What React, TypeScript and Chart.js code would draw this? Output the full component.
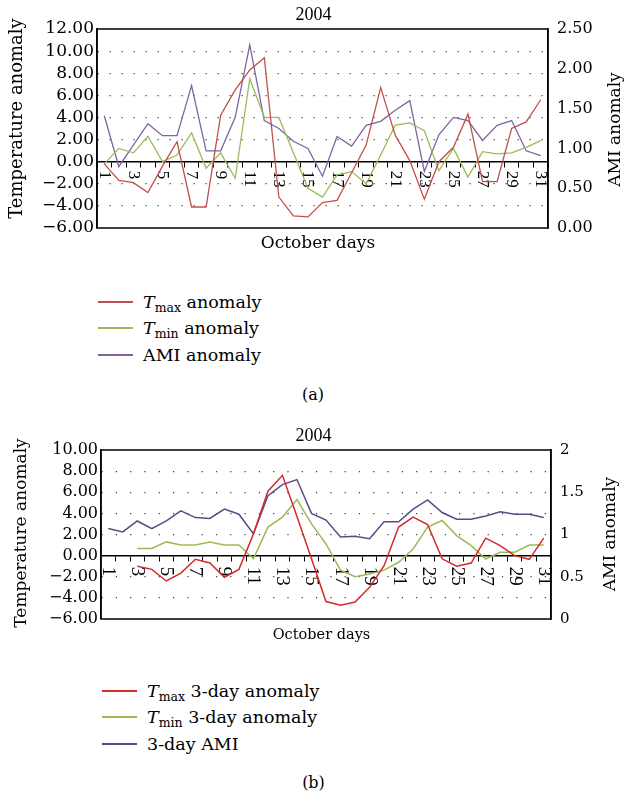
import React, { useEffect, useRef } from 'react';
import { Chart, registerables } from 'chart.js';

Chart.register(...registerables);

// ---------- data ----------
const days = ['1','2','3','4','5','6','7','8','9','10','11','12','13','14','15','16','17','18','19','20','21','22','23','24','25','26','27','28','29','30','31'];

// (a) daily anomalies
const tmaxDaily = [-0.2, -1.7, -1.9, -2.8, -0.4, 1.8, -4.1, -4.1, 4.2, 6.5, 8.3, 9.4, -3.2, -4.9, -5.0, -3.7, -3.5, -1.0, 1.5, 6.7, 2.4, 0.1, -3.4, 0.0, 1.3, 4.3, -1.8, -1.8, 3.0, 3.6, 5.6];
const tminDaily = [-0.2, 1.2, 0.8, 2.3, 0.0, 0.6, 2.6, -0.6, 0.8, -1.5, 7.5, 4.0, 4.0, 0.8, -2.4, -3.2, -1.2, -0.9, -2.0, 0.6, 3.3, 3.5, 2.8, -0.8, 1.2, -1.4, 0.9, 0.7, 0.8, 1.3, 1.9];
const amiDaily = [1.41, 0.77, 1.04, 1.31, 1.16, 1.16, 1.79, 0.97, 0.97, 1.39, 2.30, 1.35, 1.25, 1.09, 1.00, 0.65, 1.15, 1.03, 1.29, 1.34, 1.48, 1.60, 0.71, 1.17, 1.39, 1.35, 1.10, 1.29, 1.35, 0.97, 0.91];

// (b) 3-day anomalies
const tmax3day = [null, null, -1.0, -1.3, -2.4, -1.65, -0.35, -0.7, -2.05, -1.3, 2.05, 6.1, 7.6, 3.7, -0.3, -4.35, -4.7, -4.4, -3.0, -0.95, 2.7, 3.65, 2.95, -0.3, -1.0, -0.7, 1.65, 0.95, 0.0, -0.35, 1.65];
const tmin3day = [null, null, 0.67, 0.67, 1.3, 1.0, 1.0, 1.3, 1.0, 1.0, -0.3, 2.7, 3.65, 5.3, 3.0, 1.1, -1.37, -2.0, -1.75, -1.37, -0.63, 0.63, 2.7, 3.33, 1.9, 0.95, -0.32, 0.32, 0.32, 1.0, 1.0];
const ami3day = [1.07, 1.03, 1.16, 1.07, 1.16, 1.28, 1.20, 1.19, 1.30, 1.24, 1.01, 1.46, 1.59, 1.65, 1.25, 1.17, 0.97, 0.98, 0.95, 1.15, 1.15, 1.30, 1.41, 1.26, 1.18, 1.18, 1.22, 1.27, 1.24, 1.24, 1.20];

// ---------- helpers ----------
const SERIF = "'DejaVu Serif', serif";
const TIMES = "'Liberation Serif', serif";

const fmtLeft = (v: number) => (v < 0 ? '\u2212' : '') + Math.abs(v).toFixed(2);

function decor(cfg: any) {
  return {
    id: 'decor',
    beforeDatasetsDraw(chart: any) {
      const ctx = chart.ctx;
      const xs = chart.scales.x;
      const ys = chart.scales.y;
      const y0 = ys.getPixelForValue(0);
      ctx.save();
      ctx.fillStyle = '#000';
      ctx.font = cfg.xLabelFont;
      ctx.textAlign = 'left';
      ctx.textBaseline = 'middle';
      days.forEach((d, i) => {
        if (i % 2 !== 0) return;
        const x = xs.getPixelForValue(i);
        ctx.save();
        ctx.translate(x, y0 + cfg.xLabelGap);
        ctx.rotate(Math.PI / 2);
        ctx.fillText(d, 0, 0);
        ctx.restore();
      });
      ctx.restore();
    },
    afterDraw(chart: any) {
      const { ctx, chartArea: a } = chart;
      ctx.save();
      ctx.strokeStyle = '#000';
      ctx.lineWidth = 1.5;
      ctx.strokeRect(a.left, a.top, a.right - a.left, a.bottom - a.top);
      ctx.fillStyle = '#000';
      ctx.textAlign = 'center';
      ctx.textBaseline = 'middle';
      const rot = (txt: string, x: number, y: number, font: string) => {
        ctx.save();
        ctx.font = font;
        ctx.translate(x, y);
        ctx.rotate(-Math.PI / 2);
        ctx.fillText(txt, 0, 0);
        ctx.restore();
      };
      rot(cfg.leftTitle, cfg.leftTitleX, cfg.leftTitleY, cfg.leftTitleFont);
      rot(cfg.rightTitle, cfg.rightTitleX, cfg.rightTitleY, cfg.rightTitleFont);
      ctx.font = cfg.xTitleFont;
      ctx.textBaseline = 'alphabetic';
      ctx.fillText(cfg.xTitle, cfg.xTitleX, cfg.xTitleY);
      ctx.restore();
    },
  };
}

function makeConfig(p: any) {
  return {
    type: 'line',
    data: {
      labels: days,
      datasets: [
        { label: p.names[0], data: p.series[0], borderColor: p.colors[0], yAxisID: 'y' },
        { label: p.names[1], data: p.series[1], borderColor: p.colors[1], yAxisID: 'y' },
        { label: p.names[2], data: p.series[2], borderColor: p.colors[2], yAxisID: 'y1' },
      ].map((d) => ({ ...d, borderWidth: p.lineWidth, pointRadius: 0, tension: 0, fill: false, spanGaps: false })),
    },
    options: {
      animation: false,
      responsive: false,
      devicePixelRatio: 1,
      layout: { padding: { left: 0, right: 0, top: 0, bottom: p.padBottom } },
      plugins: {
        legend: { display: false },
        tooltip: { enabled: false },
        title: {
          display: true,
          text: '2004',
          color: '#000',
          font: { family: TIMES, size: 18, weight: 'normal', lineHeight: 1.1 },
          padding: { top: 5, bottom: 4.2 },
        },
      },
      scales: {
        x: {
          type: 'category',
          position: { y: 0 },
          offset: true,
          grid: { offset: true, drawOnChartArea: false, drawTicks: true, tickLength: 5, color: '#000', lineWidth: 1 },
          border: { display: true, color: '#000', width: 1.5 },
          ticks: { display: false },
        },
        y: {
          position: 'left',
          min: p.yMin,
          max: p.yMax,
          afterFit: (s: any) => { s.width = p.leftWidth; },
          ticks: {
            stepSize: 2,
            autoSkip: false,
            color: '#000',
            padding: 3,
            font: { family: SERIF, size: p.leftTickSize },
            callback: (v: any) => fmtLeft(Number(v)),
          },
          grid: {
            drawTicks: false,
            lineWidth: 1.2,
            color: (c: any) => {
              const v = c.tick ? c.tick.value : 0;
              return v === 0 || v === p.yMin || v === p.yMax ? 'rgba(0,0,0,0)' : '#3a3a3a';
            },
          },
          border: { display: true, color: '#000', width: 1.5, dash: p.dash },
        },
        y1: {
          position: 'right',
          min: 0,
          max: p.rMax,
          afterFit: (s: any) => { s.width = p.rightWidth; },
          ticks: {
            stepSize: 0.5,
            autoSkip: false,
            color: '#000',
            padding: 9,
            font: { family: SERIF, size: p.rightTickSize },
            callback: (v: any) => p.rFmt(Number(v)),
          },
          grid: { drawOnChartArea: false, drawTicks: false },
          border: { display: true, color: '#000', width: 1.5 },
        },
      },
    },
    plugins: [decor(p.decor)],
  };
}

function ChartCanvas({ config, width, height, top }: any) {
  const ref = useRef<HTMLCanvasElement | null>(null);
  useEffect(() => {
    if (!ref.current) return;
    const chart = new Chart(ref.current, config);
    return () => chart.destroy();
  }, []);
  return (
    <canvas
      ref={ref}
      width={width}
      height={height}
      style={{ position: 'absolute', left: 0, top, width, height }}
    />
  );
}

function LegendRow({ color, y, x, children }: any) {
  return (
    <div style={{ position: 'absolute', left: x, top: Math.round(y) - 12, height: 24, display: 'flex', alignItems: 'center', whiteSpace: 'nowrap' }}>
      <span style={{ display: 'inline-block', width: 35, height: 2, background: color, marginRight: 10 }} />
      <span style={{ fontFamily: SERIF, fontSize: 17.5, color: '#000', lineHeight: '24px' }}>{children}</span>
    </div>
  );
}

const sub = (t: string) => <sub style={{ fontSize: 12.5, verticalAlign: '-4px', lineHeight: 0 }}>{t}</sub>;

const colorsA = ['#c0504d', '#9bbb59', '#8064a2'];
const colorsB = ['#d42a2a', '#9bbb59', '#5c4a87'];

const configA = makeConfig({
  names: ['Tmax anomaly', 'Tmin anomaly', 'AMI anomaly'],
  series: [tmaxDaily, tminDaily, amiDaily],
  colors: colorsA,
  lineWidth: 1.3,
  padBottom: 26,
  yMin: -6,
  yMax: 12,
  rMax: 2.5,
  leftWidth: 97,
  rightWidth: 79,
  leftTickSize: 17,
  rightTickSize: 16,
  dash: [1.2, 10.8],
  rFmt: (v: number) => v.toFixed(2),
  decor: {
    xLabelFont: `17px ${TIMES}`,
    xLabelGap: 9,
    leftTitle: 'Temperature anomaly',
    leftTitleX: 17.5,
    leftTitleY: 118.5,
    leftTitleFont: `18px ${SERIF}`,
    rightTitle: 'AMI anomaly',
    rightTitleX: 616,
    rightTitleY: 129.5,
    rightTitleFont: `17px ${SERIF}`,
    xTitle: 'October days',
    xTitleX: 318,
    xTitleY: 248,
    xTitleFont: `17px ${SERIF}`,
  },
});

const configB = makeConfig({
  names: ['Tmax 3-day anomaly', 'Tmin 3-day anomaly', '3-day AMI'],
  series: [tmax3day, tmin3day, ami3day],
  colors: colorsB,
  lineWidth: 1.5,
  padBottom: 34,
  yMin: -6,
  yMax: 10,
  rMax: 2,
  leftWidth: 101,
  rightWidth: 76,
  leftTickSize: 16,
  rightTickSize: 15,
  dash: [1.2, 13.1],
  rFmt: (v: number) => String(Number(v.toFixed(1))),
  decor: {
    xLabelFont: `19px ${TIMES}`,
    xLabelGap: 11,
    leftTitle: 'Temperature anomaly',
    leftTitleX: 22,
    leftTitleY: 112,
    leftTitleFont: `17px ${SERIF}`,
    rightTitle: 'AMI anomaly',
    rightTitleX: 611,
    rightTitleY: 113,
    rightTitleFont: `17px ${SERIF}`,
    xTitle: 'October days',
    xTitleX: 321.5,
    xTitleY: 218,
    xTitleFont: `14.5px ${SERIF}`,
  },
});

export default function App() {
  return (
    <div style={{ position: 'absolute', left: 0, top: 0, width: 627, height: 796, background: '#fff', overflow: 'hidden' }}>
      <ChartCanvas config={configA} width={627} height={254} top={0} />
      <LegendRow color={colorsA[0]} x={98} y={301.5}><i>T</i>{sub('max')} anomaly</LegendRow>
      <LegendRow color={colorsA[1]} x={98} y={328.3}><i>T</i>{sub('min')} anomaly</LegendRow>
      <LegendRow color={colorsA[2]} x={98} y={354.5}>AMI anomaly</LegendRow>
      <div style={{ position: 'absolute', left: 263, width: 100, top: 384, textAlign: 'center', fontFamily: SERIF, fontSize: 16, lineHeight: '22px' }}>(a)</div>

      <ChartCanvas config={configB} width={627} height={232} top={421} />
      <LegendRow color={colorsB[0]} x={102} y={690.7}><i>T</i>{sub('max')} 3-day anomaly</LegendRow>
      <LegendRow color={colorsB[1]} x={102} y={717.3}><i>T</i>{sub('min')} 3-day anomaly</LegendRow>
      <LegendRow color={colorsB[2]} x={102} y={744}>3-day AMI</LegendRow>
      <div style={{ position: 'absolute', left: 263.5, width: 100, top: 772, textAlign: 'center', fontFamily: SERIF, fontSize: 16, lineHeight: '22px' }}>(b)</div>
    </div>
  );
}
